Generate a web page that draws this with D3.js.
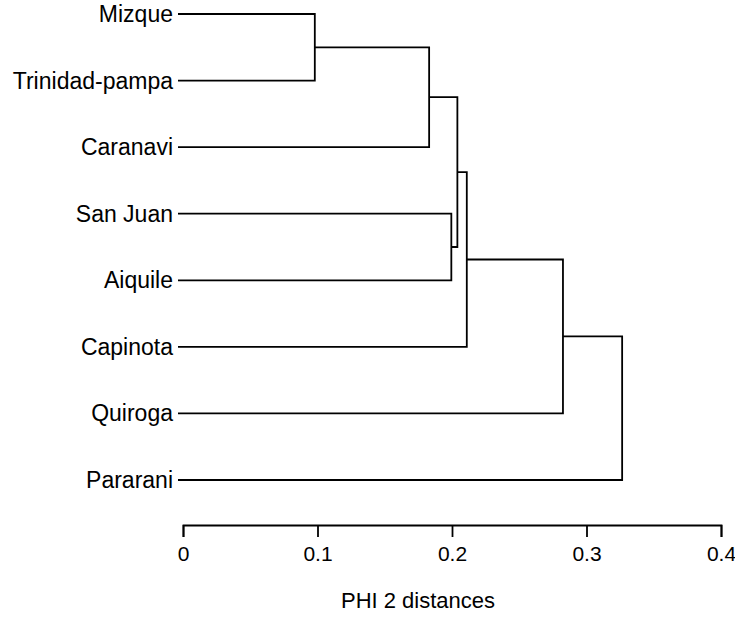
<!DOCTYPE html>
<html>
<head>
<meta charset="utf-8">
<script src="https://cdn.jsdelivr.net/npm/d3@7"></script>
<style>
  body { margin: 0; background: #fff; }
  text { font-family: "Liberation Sans", Arial, sans-serif; fill: #000; }
</style>
</head>
<body>
<div class="chart"></div>
<script>
// leaves, top to bottom
const leaves = ["Mizque", "Trinidad-pampa", "Caranavi", "San Juan", "Aiquile", "Capinota", "Quiroga", "Pararani"];
// linkage: index >= leaves.length points to an earlier merge
const mergeA = [0, 8, 3, 9, 11, 12, 13];
const mergeB = [1, 2, 4, 10, 5, 6, 7];
const mergeHeight = [0.098, 0.183, 0.1995, 0.204, 0.211, 0.2825, 0.3265];
const tickValues = [0, 0.1, 0.2, 0.3, 0.4];
const xTitle = "PHI 2 distances";

const width = 735;
const height = 617;
const margin = { top: 14, left: 183, right: 14, axisY: 525 };

const svg = d3.select(".chart")
    .append("svg")
    .attr("width", width)
    .attr("height", height);

const x = d3.scaleLinear()
    .domain([0, 0.4])
    .range([margin.left, width - margin.right]);

const y = d3.scalePoint()
    .domain(leaves)
    .range([margin.top, 480]);

// positions of leaves and merged nodes
const nodes = leaves.map(function (d) { return { x: x(0) - 5, y: y(d), name: d }; });
mergeHeight.forEach(function (h, i) {
    const a = nodes[mergeA[i]], b = nodes[mergeB[i]];
    nodes.push({ x: x(h), y: (a.y + b.y) / 2, a: a, b: b });
});

const links = nodes.filter(function (d) { return d.a; });

svg.append("g")
    .selectAll("path")
    .data(links)
    .enter()
    .append("path")
    .attr("d", function (d) {
        return "M" + d.a.x + "," + d.a.y + "H" + d.x + "V" + d.b.y + "H" + d.b.x;
    })
    .attr("fill", "none")
    .attr("stroke", "#000")
    .attr("stroke-width", 1.8);

svg.append("g")
    .selectAll("text")
    .data(leaves)
    .enter()
    .append("text")
    .attr("x", x(0) - 10)
    .attr("y", function (d) { return y(d); })
    .attr("dy", "0.35em")
    .attr("text-anchor", "end")
    .style("font-size", "23px")
    .text(function (d) { return d; });

const axis = svg.append("g")
    .attr("transform", "translate(0," + margin.axisY + ")")
    .call(d3.axisBottom(x)
        .tickValues(tickValues)
        .tickFormat(function (d) { return d === 0 ? "0" : d3.format(".1f")(d); })
        .tickSize(12)
        .tickPadding(9));

axis.select(".domain").attr("stroke", "#000").attr("stroke-width", 1.8);
axis.selectAll(".tick line").attr("stroke", "#000").attr("stroke-width", 1.8);
axis.selectAll(".tick text")
    .style("font-size", "21px")
    .style("font-family", "'Liberation Sans', Arial, sans-serif")
    .attr("fill", "#000");

svg.append("text")
    .attr("x", 418)
    .attr("y", 608)
    .attr("text-anchor", "middle")
    .style("font-size", "22px")
    .text(xTitle);
</script>
</body>
</html>
